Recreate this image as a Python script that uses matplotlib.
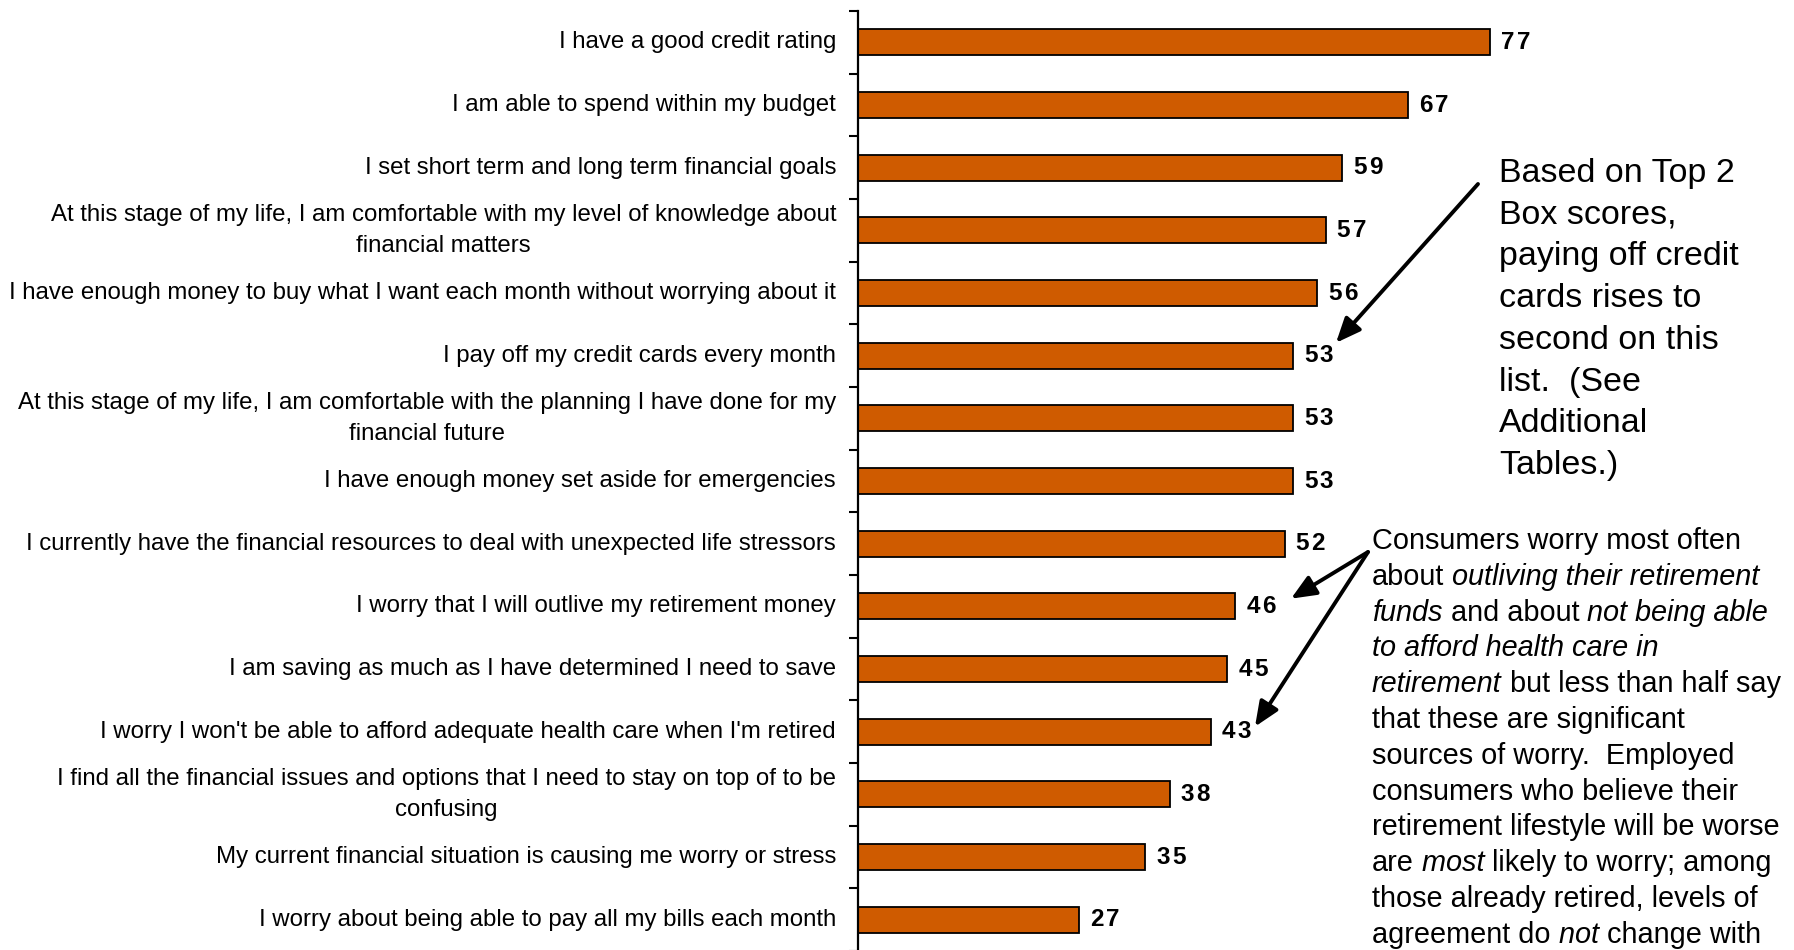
import matplotlib
matplotlib.use('Agg')
import matplotlib.pyplot as plt
from matplotlib.text import Annotation
from matplotlib.transforms import ScaledTranslation

# ---------------- data ----------------
categories = [
    "I have a good credit rating",
    "I am able to spend within my budget",
    "I set short term and long term financial goals",
    "At this stage of my life, I am comfortable with my level of knowledge about\nfinancial matters",
    "I have enough money to buy what I want each month without worrying about it",
    "I pay off my credit cards every month",
    "At this stage of my life, I am comfortable with the planning I have done for my\nfinancial future",
    "I have enough money set aside for emergencies",
    "I currently have the financial resources to deal with unexpected life stressors",
    "I worry that I will outlive my retirement money",
    "I am saving as much as I have determined I need to save",
    "I worry I won't be able to afford adequate health care when I'm retired",
    "I find all the financial issues and options that I need to stay on top of to be\nconfusing",
    "My current financial situation is causing me worry or stress",
    "I worry about being able to pay all my bills each month",
]
values = [77, 67, 59, 57, 56, 53, 53, 53, 52, 46, 45, 43, 38, 35, 27]

note1_lines = [
    "Based on Top 2",
    "Box scores,",
    "paying off credit",
    "cards rises to",
    "second on this",
    "list.  (See",
    "Additional",
    "Tables.)",
]
note2_lines = [
    [("Consumers worry most often", "normal")],
    [("about", "normal"), (" outliving their retirement", "italic")],
    [("funds", "italic"), (" and about", "normal"), (" not being able", "italic")],
    [("to afford health care in", "italic")],
    [("retirement", "italic"), (" but less than half say", "normal")],
    [("that these are significant", "normal")],
    [("sources of worry.  Employed", "normal")],
    [("consumers who believe their", "normal")],
    [("retirement lifestyle will be worse", "normal")],
    [("are", "normal"), (" most", "italic"), (" likely to worry; among", "normal")],
    [("those already retired, levels of", "normal")],
    [("agreement do", "normal"), (" not", "italic"), (" change with", "normal")],
]
# arrow targets (category indices whose value labels are pointed at)
arrow1_target = 5
arrow2_targets = [9, 11]

# ---------------- figure ----------------
W, H = 1794, 950
plt.rcParams['font.family'] = ['Liberation Sans', 'DejaVu Sans']
fig = plt.figure(figsize=(W / 100, H / 100), dpi=100)
fig.patch.set_facecolor('white')

ax = fig.add_axes([857.7 / W, -1.0 / H, 821.0 / W, 940.0 / H])
ypos = list(range(len(values)))
ax.barh(ypos, values, height=0.41, color='#CF5B00', edgecolor='black', linewidth=1.3)
ax.set_xlim(0, 100)
ax.set_ylim(len(values) - 0.5, -0.5)
for s in ['top', 'right', 'bottom']:
    ax.spines[s].set_visible(False)
ax.spines['left'].set_linewidth(1.6)
ax.xaxis.set_visible(False)
ax.patch.set_visible(False)

ax.set_yticks(ypos)
ax.set_yticklabels(categories, fontsize=17.3, multialignment='center', linespacing=1.55)
ax.set_yticks([i - 0.5 for i in range(len(values) + 1)], minor=True)
ax.tick_params(axis='y', which='major', length=0, pad=15.6)
ax.tick_params(axis='y', which='minor', length=6.5, width=1.5, direction='out')

# nudge tick labels slightly upward (more for two-line labels)
for lab in ax.get_yticklabels():
    dy = 7 if '\n' in lab.get_text() else 2.5
    lab.set_transform(lab.get_transform() + ScaledTranslation(0, dy / 100, fig.dpi_scale_trans))

# value labels with slight letter spacing
for i, v in enumerate(values):
    prev = None
    for k, ch in enumerate(str(v)):
        if prev is None:
            prev = ax.annotate(ch, xy=(v, i), xycoords='data', xytext=(11, 0),
                               textcoords='offset pixels', va='center', ha='left',
                               fontsize=17.5, fontweight='bold', annotation_clip=False)
        else:
            prev = ax.annotate(ch, xy=(1, 0.5), xycoords=prev, xytext=(2.5, 0),
                               textcoords='offset pixels', va='center', ha='left',
                               fontsize=17.5, fontweight='bold', annotation_clip=False)


def fy(py):
    return 1 - py / H


# note 1
for j, line in enumerate(note1_lines):
    fig.text(1499 / W, fy(182 + j * 41.7), line, fontsize=24.5, va='baseline', ha='left')

# note 2 (mixed italic)
for j, pieces in enumerate(note2_lines):
    prev = None
    for txt, st in pieces:
        if prev is None:
            prev = fig.text(1372 / W, fy(549 + j * 35.8), txt, fontsize=20.8,
                            style=st, va='baseline', ha='left')
        else:
            a = Annotation(txt, xy=(1, 0), xycoords=prev, va='bottom', ha='left',
                           fontsize=20.8, style=st)
            fig.add_artist(a)
            prev = a

# arrows
px_per_unit = 8.21
cat_px = 62.7
def target(idx, px_x, px_y):
    return ((px_x - 857.7) / px_per_unit, idx + (px_y - (11 + cat_px * (idx + 0.5))) / cat_px)

aprops = dict(arrowstyle='-|>,head_length=0.75,head_width=0.32', lw=2.8, color='black',
              shrinkA=0, shrinkB=0, mutation_scale=20)
ax.annotate('', xy=target(arrow1_target, 1336, 343), xycoords='data',
            xytext=(1478, H - 184), textcoords='figure pixels', arrowprops=aprops)
ax.annotate('', xy=target(arrow2_targets[0], 1291, 599), xycoords='data',
            xytext=(1368, H - 552), textcoords='figure pixels', arrowprops=aprops)
ax.annotate('', xy=target(arrow2_targets[1], 1255, 727), xycoords='data',
            xytext=(1368, H - 552), textcoords='figure pixels', arrowprops=aprops)

fig.savefig('out.png', dpi=100)
